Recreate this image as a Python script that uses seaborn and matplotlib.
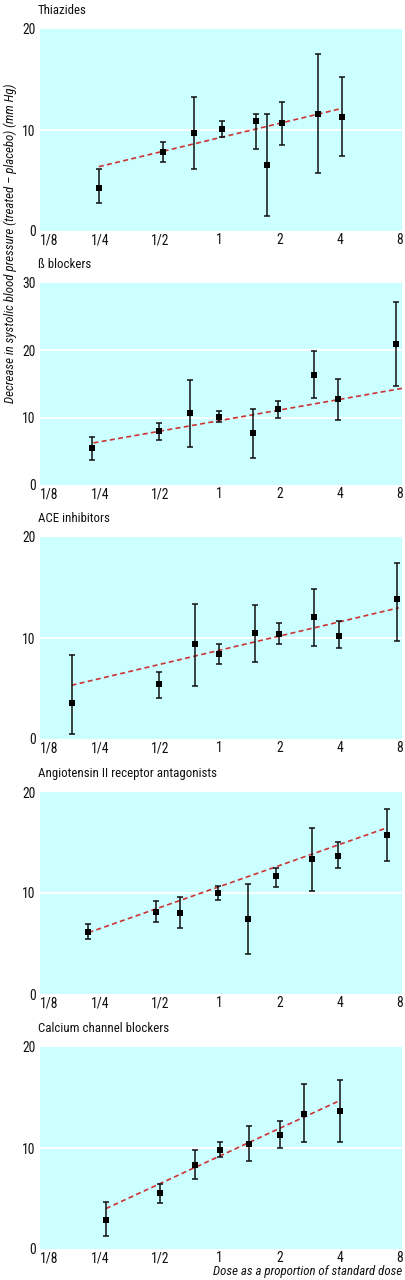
import matplotlib
matplotlib.use('Agg')
from matplotlib import font_manager
import matplotlib.pyplot as plt
import pandas as pd
import seaborn as sns

# panel titles
titles = ['Thiazides', 'ß blockers', 'ACE inhibitors',
          'Angiotensin II receptor antagonists', 'Calcium channel blockers']

# dose (proportion of standard dose), mean decrease, lower and upper CI
thz_dose = [0.247, 0.516, 0.741, 1.03, 1.53, 1.73, 2.06, 3.12, 4.11]
thz_mean = [4.3, 7.85, 9.67, 10.1, 10.86, 6.53, 10.66, 11.55, 11.32]
thz_low = [2.8, 6.8, 6.1, 9.27, 8.12, 1.49, 8.5, 5.78, 7.46]
thz_high = [6.1, 8.84, 13.27, 10.92, 11.55, 11.6, 12.8, 17.56, 15.25]
thz_fit_dose = [0.247, 4.0]
thz_fit = [6.37, 12.08]

bb_dose = [0.227, 0.497, 0.712, 0.988, 1.47, 1.97, 2.97, 3.95, 7.73]
bb_mean = [5.55, 7.98, 10.66, 10.17, 7.68, 11.25, 16.36, 12.7, 20.92]
bb_low = [3.77, 6.69, 5.7, 9.4, 3.97, 9.96, 12.9, 9.72, 14.72]
bb_high = [7.14, 9.27, 15.57, 11.0, 11.25, 12.54, 19.83, 15.77, 27.17]
bb_fit_dose = [0.232, 8.25]
bb_fit = [6.25, 14.35]

ace_dose = [0.180, 0.498, 0.749, 0.988, 1.51, 1.99, 2.99, 4.0, 7.75]
ace_mean = [3.54, 5.42, 9.36, 8.43, 10.51, 10.38, 12.1, 10.18, 13.82]
ace_low = [0.53, 4.1, 5.26, 7.47, 7.64, 9.42, 9.22, 8.99, 9.75]
ace_high = [8.36, 6.68, 13.36, 9.36, 13.26, 11.47, 14.81, 11.67, 17.42]
ace_fit_dose = [0.180, 7.95]
ace_fit = [5.32, 12.99]

ara_dose = [0.219, 0.48, 0.634, 0.981, 1.39, 1.92, 2.92, 3.94, 6.92]
ara_mean = [6.18, 8.14, 8.04, 10.0, 7.44, 11.66, 13.39, 13.65, 15.71]
ara_low = [5.42, 7.08, 6.51, 9.27, 3.92, 10.63, 10.2, 12.46, 13.12]
ara_high = [6.98, 9.17, 9.57, 10.7, 10.86, 12.52, 16.48, 15.02, 18.27]
ara_fit_dose = [0.219, 6.92]
ara_fit = [6.08, 16.45]

ccb_dose = [0.268, 0.502, 0.753, 1.0, 1.41, 2.0, 2.65, 4.03]
ccb_mean = [2.91, 5.55, 8.36, 9.85, 10.38, 11.24, 13.39, 13.65]
ccb_low = [1.26, 4.6, 6.98, 9.09, 8.69, 10.02, 10.61, 10.58]
ccb_high = [4.63, 6.45, 9.78, 10.64, 12.2, 12.64, 16.33, 16.69]
ccb_fit_dose = [0.268, 4.03]
ccb_fit = [4.0, 14.71]

y_tops = [20, 30, 20, 20, 20]
x_ticks = [1/8, 1/4, 1/2, 1, 2, 4, 8]
x_labels = ['1/8', '1/4', '1/2', '1', '2', '4', '8']

panels = [
    (thz_dose, thz_mean, thz_low, thz_high, thz_fit_dose, thz_fit),
    (bb_dose, bb_mean, bb_low, bb_high, bb_fit_dose, bb_fit),
    (ace_dose, ace_mean, ace_low, ace_high, ace_fit_dose, ace_fit),
    (ara_dose, ara_mean, ara_low, ara_high, ara_fit_dose, ara_fit),
    (ccb_dose, ccb_mean, ccb_low, ccb_high, ccb_fit_dose, ccb_fit),
]

# pick a condensed sans (reference uses a Helvetica Condensed look)
available = {f.name for f in font_manager.fontManager.ttflist}
narrow_choices = ['Liberation Sans Narrow', 'Arial Narrow', 'Roboto Condensed',
                  'PT Sans Narrow', 'Archivo Narrow', 'Open Sans Condensed',
                  'Fira Sans Condensed', 'IBM Plex Sans Condensed']
narrow = [f for f in narrow_choices if f in available][:1]

sns.set_theme(style='white')
plt.rcParams['font.family'] = narrow + ['DejaVu Sans']
fs = 9.3 if narrow else 7.5

fig = plt.figure(figsize=(4.06, 12.8), dpi=100)
W, H = 406, 1280
tops = [29, 283, 537, 792, 1047]
ax_h = 202

for i, (dose, mean, low, high, fdose, fval) in enumerate(panels):
    top = tops[i]
    ax = fig.add_axes([40 / W, 1 - (top + ax_h) / H, 362 / W, ax_h / H])
    ax.set_facecolor('#ccffff')
    df = pd.DataFrame({'dose': dose, 'mean': mean, 'low': low, 'high': high})

    # fitted line
    sns.lineplot(x=fdose, y=fval, ax=ax, color='#cc3333', lw=1.2,
                 linestyle=(0, (3, 2)), zorder=2)
    # error bars
    ax.errorbar(df['dose'], df['mean'],
                yerr=[df['mean'] - df['low'], df['high'] - df['mean']],
                fmt='none', ecolor='#111111', elinewidth=1.1, capsize=2.4,
                capthick=1.1, zorder=3)
    sns.scatterplot(data=df, x='dose', y='mean', ax=ax, marker='s', s=22,
                    color='black', edgecolor='black', linewidth=0, zorder=4)

    ax.set_xscale('log', base=2)
    ax.set_xlim(1/8, 8.25)
    ax.set_ylim(0, y_tops[i])
    yt = list(range(0, y_tops[i] + 1, 10))
    ax.set_yticks(yt)
    ax.set_yticklabels([str(v) for v in yt])
    ax.set_xticks(x_ticks)
    ax.set_xticklabels(x_labels)
    ax.xaxis.set_minor_locator(plt.NullLocator())
    ax.get_xticklabels()[0].set_horizontalalignment('left')
    for t in [v for v in yt if 0 < v < y_tops[i]]:
        ax.axhline(t, color='white', lw=1.3, zorder=1)
    ax.tick_params(axis='both', length=0, labelsize=fs + 0.5, colors='#111111')
    ax.tick_params(axis='x', pad=1.5)
    ax.tick_params(axis='y', pad=3)
    for s in ax.spines.values():
        s.set_visible(False)
    ax.set_xlabel('')
    ax.set_ylabel('')
    fig.text(38 / W, 1 - (top - 19) / H, titles[i], fontsize=fs,
             ha='left', va='center', color='#111111')

fig.text(10 / W, 1 - 243 / H,
         'Decrease in systolic blood pressure (treated \u2013 placebo) (mm Hg)',
         rotation=90, ha='center', va='center', fontsize=fs, style='italic',
         color='#111111')
fig.text(402 / W, 1 - 1271 / H, 'Dose as a proportion of standard dose',
         ha='right', va='center', fontsize=fs, style='italic', color='#111111')

fig.savefig('out.png', dpi=100)
